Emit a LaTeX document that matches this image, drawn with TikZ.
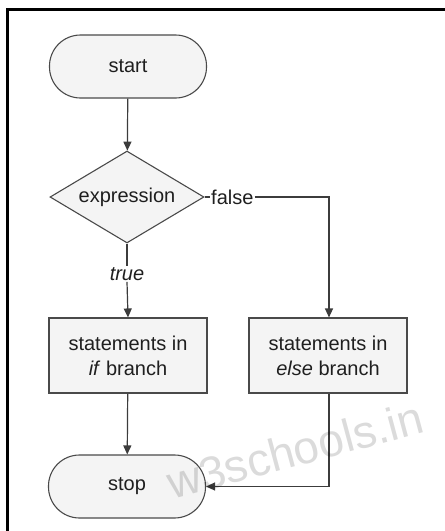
\documentclass[tikz,border=0pt]{standalone}
\usepackage{fontspec}
\setmainfont{Liberation Sans}
\usetikzlibrary{shapes.geometric,arrows.meta}
\definecolor{nodefill}{HTML}{F4F4F4}
\definecolor{nodeline}{HTML}{4A4A4A}
\definecolor{linecol}{HTML}{3C3C3C}
\tikzset{
  x=1pt, y=-1pt,
  base/.style={draw=nodeline, fill=nodefill, line width=1.1pt, text=black!88,
    font=\fontsize{20}{25}\selectfont, align=center, inner sep=0pt},
  term/.style={base, rectangle, rounded corners=31pt, minimum width=157pt, minimum height=63pt},
  stepbox/.style={base, rectangle, minimum width=158pt, minimum height=75pt},
  decide/.style={base, diamond, shape aspect=1.67, minimum width=154pt, minimum height=92pt},
  lbl/.style={font=\fontsize{20}{25}\selectfont, text=black!88, inner sep=1pt},
  conn/.style={draw=linecol, line width=1.2pt, -{Triangle[length=9pt,width=8pt]}},
  plain/.style={draw=linecol, line width=1.2pt}
}
\begin{document}
\begin{tikzpicture}
\useasboundingbox (0,0) rectangle (445,531);
% frame
\draw[line width=3pt, black] (7.5,531) -- (7.5,9.5) -- (445,9.5);
% nodes
\node[term] (start) at (128,66.5) {start};
\node[decide] (expr) at (127,197) {expression};
\node[lbl, font=\fontsize{20}{25}\selectfont\itshape] (true) at (127,274) {true};
\node[lbl, anchor=west] (false) at (210,197) {false};
\node[stepbox] (ifb) at (128,355.5) {statements in\\\textit{if} branch};
\node[stepbox] (elseb) at (328,355.5) {statements in\\\textit{else} branch};
\node[term] (stop) at (127,486.5) {stop};
\coordinate (turn) at (329,197);
% connectors
\draw[conn] (start) -- (expr);
\draw[plain] (expr.south) -- (true.north);
\draw[conn] (true.south) -- (ifb.north);
\draw[plain] (expr.east) -- (false.west);
\draw[conn] (false.east) -- (turn) -- (elseb.north -| turn);
\draw[conn] (ifb) -- (stop);
\draw[conn] (elseb.south -| turn) |- (stop.east);
% watermark
\node[text=black, text opacity=0.14, font=\fontsize{46}{46}\selectfont, rotate=15, inner sep=0pt] (wm) at (295,450) {w3schools.in};
\end{tikzpicture}
\end{document}
